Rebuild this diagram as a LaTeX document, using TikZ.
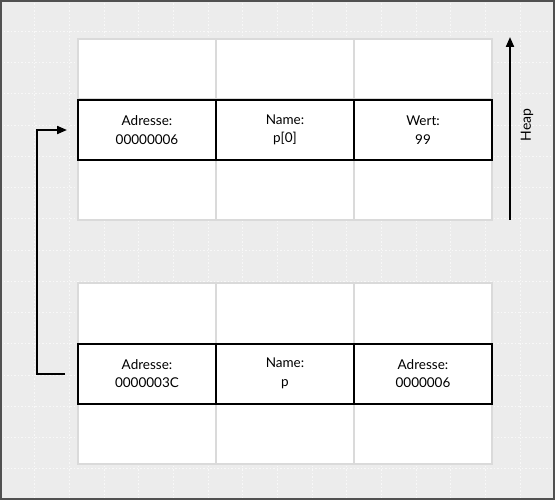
\documentclass[tikz,border=0pt]{standalone}
\usepackage{fontspec}
\setmainfont{Lato}
\usetikzlibrary{arrows.meta}
\definecolor{bg}{HTML}{ECECEC}
\definecolor{gridc}{HTML}{F8F8F8}
\definecolor{cellline}{HTML}{DADADA}
\definecolor{framec}{HTML}{505050}
\begin{document}
\begin{tikzpicture}[x=1pt,y=-1pt,
  cell/.style={draw=cellline, line width=2pt, fill=white, minimum width=138pt,
    minimum height=60pt, inner sep=0pt, outer sep=0pt, align=center,
    font=\fontsize{13.5}{18.5}\selectfont},
  memrow/.style={cell, draw=black},
  link/.style={line width=2pt, -{Triangle[length=10pt,width=8pt]}},
  gridline/.style={gridc, line width=0.9pt, dash pattern=on 1.5pt off 2pt}]
\useasboundingbox (0,0) rectangle (555,500);
\fill[bg] (0,0) rectangle (555,500);
\foreach \i in {1,...,15} {
  \draw[gridline] ({\i*555/16},0) -- ({\i*555/16},500);
  \draw[gridline] (0,{\i*500/16}) -- (555,{\i*500/16});
}
\draw[framec, line width=2pt] (1,1) rectangle (554,499);
% top table
\node[cell] (t11) at (147,69) {};
\node[cell] (t12) at (285,69) {};
\node[cell] (t13) at (423,69) {};
\node[cell] (t31) at (147,190) {};
\node[cell] (t32) at (285,190) {};
\node[cell] (t33) at (423,190) {};
\node[memrow] (t21) at (147,130) {Adresse:\\00000006};
\node[memrow] (t22) at (285,130) {Name:\\p[0]};
\node[memrow] (t23) at (423,130) {Wert:\\99};
% bottom table
\node[cell] (b11) at (147,313.5) {};
\node[cell] (b12) at (285,313.5) {};
\node[cell] (b13) at (423,313.5) {};
\node[cell] (b31) at (147,433.5) {};
\node[cell] (b32) at (285,433.5) {};
\node[cell] (b33) at (423,433.5) {};
\node[memrow] (b21) at (147,373.5) {Adresse:\\0000003C};
\node[memrow] (b22) at (285,373.5) {Name:\\p};
\node[memrow] (b23) at (423,373.5) {Adresse:\\0000006};
% pointer arrow
\draw[link] ([xshift=-13pt]b21.west) -- ++(-28,0) |- ([xshift=-11pt]t21.west);
% heap arrow
\coordinate (hs) at (510,220);
\coordinate (he) at (510,37);
\draw[link] (hs) -- (he);
\node[rotate=90, font=\fontsize{14}{16}\selectfont] (heap) at (527,125) {Heap};
\end{tikzpicture}
\end{document}
